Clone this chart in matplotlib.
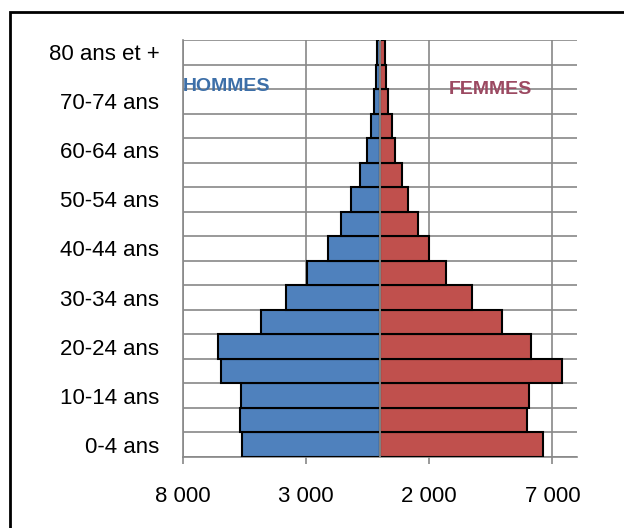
import matplotlib
matplotlib.use("Agg")
import matplotlib.pyplot as plt
import numpy as np
from matplotlib.patches import Rectangle

ages = ["0-4 ans", "5-9 ans", "10-14 ans", "15-19 ans", "20-24 ans", "25-29 ans",
        "30-34 ans", "35-39 ans", "40-44 ans", "45-49 ans", "50-54 ans", "55-59 ans",
        "60-64 ans", "65-69 ans", "70-74 ans", "75-79 ans", "80 ans et +"]
hommes = [5600, 5700, 5650, 6450, 6570, 4840, 3800, 2950, 2100, 1600, 1170, 800,
          520, 360, 240, 160, 120]
femmes = [6600, 5950, 6050, 7400, 6150, 4950, 3750, 2700, 2000, 1550, 1130, 900,
          620, 480, 320, 240, 200]
xticks = [-8000, -3000, 2000, 7000]
xtick_labels = ["8 000", "3 000", "2 000", "7 000"]

plt.rcParams['font.family'] = ['Liberation Sans', 'DejaVu Sans']
fig = plt.figure(figsize=(6.24, 5.28), dpi=100)
fig.patches.append(Rectangle((10/624, -0.1), 1.0, 1 - 12/528 + 0.1, transform=fig.transFigure,
                             fill=False, edgecolor="black", linewidth=2))
ax = fig.add_axes([183/624, 1 - 457/528, 394/624, 417/528])

y = np.arange(len(ages))
ax.barh(y, [-h for h in hommes], height=1.0, color="#4f81bd", edgecolor="black", linewidth=1.5, zorder=3)
ax.barh(y, femmes, height=1.0, color="#c0504d", edgecolor="black", linewidth=1.5, zorder=3)
ax.axvline(0, color="#999999", linewidth=1.2, zorder=4)

ax.set_xlim(-8000, 8000)
ax.set_ylim(-0.5, len(ages) - 0.5)
ax.set_xticks(xticks)
ax.set_xticklabels(xtick_labels, fontsize=16)
ax.set_yticks(y[::2])
ax.set_yticklabels(ages[::2], fontsize=16)
ax.set_yticks(np.arange(-0.5, len(ages)), minor=True)
ax.tick_params(axis="y", which="both", length=0, pad=17)
ax.tick_params(axis="x", length=5, color="#888888", width=1.2, pad=16)
ax.grid(True, axis="x", color="#888888", linewidth=1.2, zorder=0)
ax.grid(True, axis="y", which="minor", color="#888888", linewidth=1.2, zorder=0)
for s in ax.spines.values():
    s.set_visible(False)
for side in ("left", "bottom"):
    ax.spines[side].set_visible(True)
    ax.spines[side].set_color("#888888")
    ax.spines[side].set_linewidth(1.2)

ax.text(-8000, 14.6, "HOMMES", color="#3d6fa8", fontsize=14, fontweight="bold", va="center", ha="left", zorder=5)
ax.text(4500, 14.5, "FEMMES", color="#9c4a62", fontsize=14, fontweight="bold", va="center", ha="center", zorder=5)

fig.savefig("out.png", dpi=100)
